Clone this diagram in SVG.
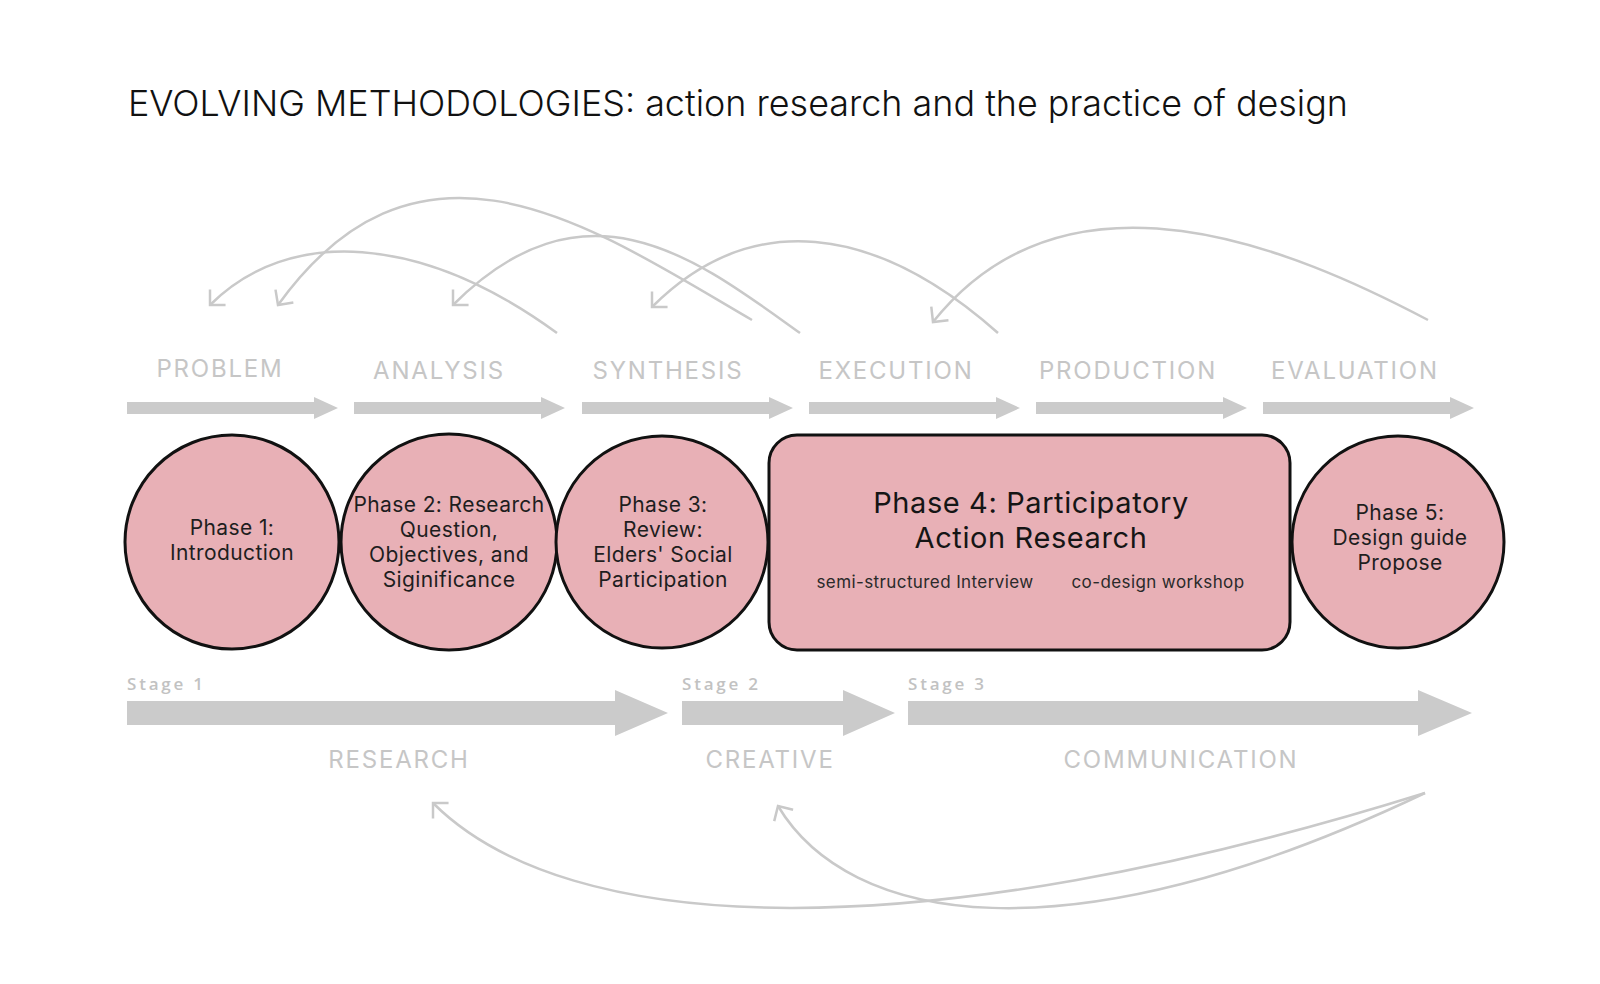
<svg xmlns="http://www.w3.org/2000/svg" width="1600" height="984" viewBox="0 0 1600 984">
<style>
  .bg { fill: #ffffff; }
  .title { font-family: Inter, "DejaVu Sans", sans-serif; font-weight: 300; font-size: 36px; fill: #111111; }
  .hdr { font-family: Inter, "DejaVu Sans", sans-serif; font-weight: 400; font-size: 24px; fill: #c6c6c6; text-anchor: middle; letter-spacing: 1.8px; }
  .stage { font-family: "Open Sans", "DejaVu Sans", sans-serif; font-weight: 600; font-size: 17px; fill: #c2c2c2; letter-spacing: 2.8px; }
  .band { fill: #cbcbcb; }
  .node { fill: #e8b0b6; stroke: #111111; stroke-width: 3; }
  .ntext { font-family: Inter, "DejaVu Sans", sans-serif; font-weight: 400; font-size: 21px; fill: #1e1e1e; text-anchor: middle; letter-spacing: 0.4px; }
  .big { font-family: Inter, "DejaVu Sans", sans-serif; font-weight: 400; font-size: 29px; fill: #151515; text-anchor: middle; letter-spacing: 0.6px; }
  .sub { font-family: Inter, "DejaVu Sans", sans-serif; font-weight: 400; font-size: 17px; fill: #2a2a2a; text-anchor: middle; letter-spacing: 0.4px; }
  .link { fill: none; stroke: #c9c9c9; stroke-width: 2.5; marker-end: url(#chev); }
</style>
<defs>
  <marker id="chev" viewBox="-16 -16 20 32" markerWidth="20" markerHeight="32" refX="0" refY="0" orient="auto" markerUnits="userSpaceOnUse">
    <path d="M-11,-11 L0,0 L-11,11" fill="none" stroke="#c9c9c9" stroke-width="2.5"/>
  </marker>
  <path id="harrow" d="M0,-6 H187 V-11 L211,0 L187,11 V6 H0 Z"/>
</defs>
<rect class="bg" x="0" y="0" width="1600" height="984"/>

<text class="title" x="128" y="116" textLength="1220" lengthAdjust="spacingAndGlyphs">EVOLVING METHODOLOGIES: action research and the practice of design</text>

<g id="header-arrows" class="band">
  <use href="#harrow" x="127" y="408"/>
  <use href="#harrow" x="354" y="408"/>
  <use href="#harrow" x="582" y="408"/>
  <use href="#harrow" x="809" y="408"/>
  <use href="#harrow" x="1036" y="408"/>
  <use href="#harrow" x="1263" y="408"/>
</g>
<g id="header-labels">
  <text class="hdr" x="220" y="377">PROBLEM</text>
  <text class="hdr" x="439" y="379">ANALYSIS</text>
  <text class="hdr" x="668" y="379">SYNTHESIS</text>
  <text class="hdr" x="896" y="379">EXECUTION</text>
  <text class="hdr" x="1128" y="379">PRODUCTION</text>
  <text class="hdr" x="1355" y="379">EVALUATION</text>
</g>

<g id="connectors">
  <path class="link" d="M557,333 C421,234 289,226 210,305"/>
  <path class="link" d="M752,320 C597,230 422,105 278,305"/>
  <path class="link" d="M800,333 C702,263 588,170 453,305"/>
  <path class="link" d="M998,333 C874,223 750,209 652,307"/>
  <path class="link" d="M1428,320 C1295,250 1069,152 933,322"/>
  <path class="link" d="M1425,793 C919,951 568,938 433,803"/>
  <path class="link" d="M1425,793 C1064,965 848,923 778,806"/>
</g>

<g id="phase1">
  <circle class="node" cx="232" cy="542" r="107"/>
  <text class="ntext" x="232" y="535">Phase 1:</text>
  <text class="ntext" x="232" y="560">Introduction</text>
</g>
<g id="phase2">
  <circle class="node" cx="449" cy="542" r="108"/>
  <text class="ntext" x="449" y="512">Phase 2: Research</text>
  <text class="ntext" x="449" y="537">Question,</text>
  <text class="ntext" x="449" y="562">Objectives, and</text>
  <text class="ntext" x="449" y="587">Siginificance</text>
</g>
<g id="phase3">
  <circle class="node" cx="662" cy="542" r="106"/>
  <text class="ntext" x="663" y="512">Phase 3:</text>
  <text class="ntext" x="663" y="537">Review:</text>
  <text class="ntext" x="663" y="562">Elders' Social</text>
  <text class="ntext" x="663" y="587">Participation</text>
</g>
<g id="phase4">
  <rect class="node" x="769" y="435" width="521" height="215" rx="28" ry="28"/>
  <text class="big" x="1031" y="513">Phase 4: Participatory</text>
  <text class="big" x="1031" y="548">Action Research</text>
  <text class="sub" x="925" y="588">semi-structured Interview</text>
  <text class="sub" x="1158" y="588">co-design workshop</text>
</g>
<g id="phase5">
  <circle class="node" cx="1398" cy="542" r="106"/>
  <text class="ntext" x="1400" y="520">Phase 5:</text>
  <text class="ntext" x="1400" y="545">Design guide</text>
  <text class="ntext" x="1400" y="570">Propose</text>
</g>

<g id="stages">
  <text class="stage" x="127" y="690">Stage 1</text>
  <text class="stage" x="682" y="690">Stage 2</text>
  <text class="stage" x="908" y="690">Stage 3</text>
  <path class="band" d="M127,701 H615 V690 L668,713 L615,736 V725 H127 Z"/>
  <path class="band" d="M682,701 H843 V690 L895,713 L843,736 V725 H682 Z"/>
  <path class="band" d="M908,701 H1418 V690 L1472,713 L1418,736 V725 H908 Z"/>
  <text class="hdr" x="399" y="768">RESEARCH</text>
  <text class="hdr" x="770" y="768">CREATIVE</text>
  <text class="hdr" x="1181" y="768">COMMUNICATION</text>
</g>
</svg>
